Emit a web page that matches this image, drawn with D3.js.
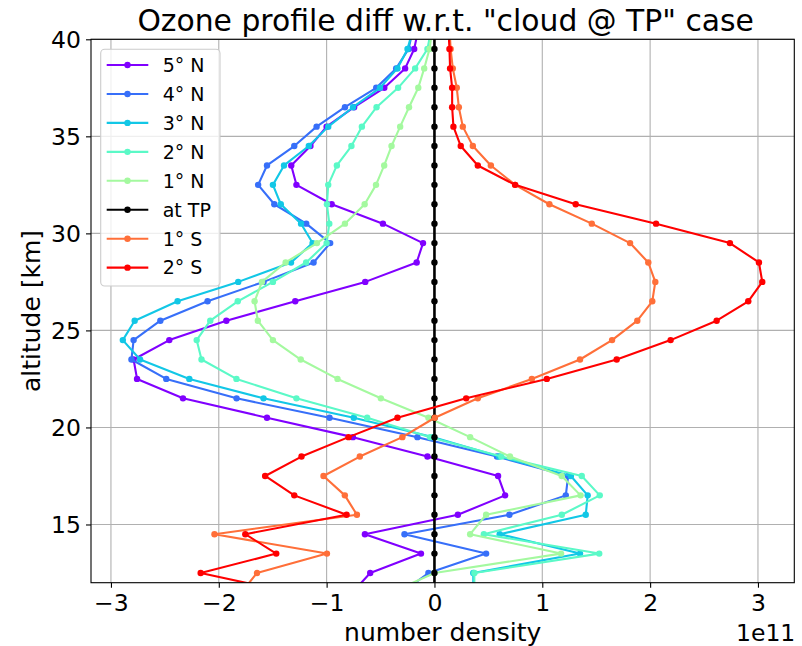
<!DOCTYPE html>
<html>
<head>
<meta charset="utf-8">
<script src="https://cdn.jsdelivr.net/npm/d3@7"></script>
<style>
  html, body { margin: 0; padding: 0; background: #ffffff; }
  svg { display: block; }
  text { font-family: "DejaVu Sans", sans-serif; fill: #000; }
</style>
</head>
<body>
<div id="chart"></div>
<script>
// ---------- data (number density difference, units of 1e11) ----------
const altitudes = [11.5, 12.5, 13.5, 14.5, 15.5, 16.5, 17.5, 18.5, 19.5, 20.5,
                   21.5, 22.5, 23.5, 24.5, 25.5, 26.5, 27.5, 28.5, 29.5, 30.5,
                   31.5, 32.5, 33.5, 34.5, 35.5, 36.5, 37.5, 38.5, 39.5, 40.5];

const seriesNames = ["5° N", "4° N", "3° N", "2° N", "1° N", "at TP", "1° S", "2° S"];
const seriesColors = ["#8000ff", "#376ff9", "#12c7e6", "#5bf9c7", "#a4f99f", "#000000", "#ff6f39", "#ff0000"];

const lat5N = [-0.76, -0.596, -0.125, -0.645, 0.217, 0.655, 0.59, -0.065, -0.756, -1.553,
               -2.332, -2.758, -2.79, -2.459, -1.93, -1.291, -0.642, -0.165, -0.106, -0.478,
               -0.953, -1.28, -1.328, -1.15, -1.0, -0.745, -0.465, -0.272, -0.188, -0.15];
const lat4N = [-0.3, -0.056, 0.479, -0.278, 0.695, 1.218, 1.24, 0.58, -0.158, -0.973,
               -1.835, -2.487, -2.81, -2.79, -2.542, -2.104, -1.585, -1.121, -0.967, -1.189,
               -1.485, -1.635, -1.553, -1.30, -1.093, -0.83, -0.54, -0.355, -0.24, -0.2];
const lat3N = [0.36, 0.36, 1.35, 0.605, 1.403, 1.421, 1.265, 0.60, -0.01, -0.748,
               -1.585, -2.273, -2.73, -2.89, -2.78, -2.382, -1.82, -1.33, -1.13, -1.237,
               -1.425, -1.498, -1.395, -1.165, -0.985, -0.755, -0.505, -0.343, -0.25, -0.2];
const lat2N = [0.37, 0.37, 1.528, 0.458, 1.181, 1.533, 1.366, 0.62, -0.04, -0.624,
               -1.28, -1.836, -2.16, -2.205, -2.079, -1.824, -1.498, -1.19, -1.0, -0.975,
               -0.997, -0.985, -0.905, -0.77, -0.673, -0.537, -0.337, -0.179, -0.065, -0.03];
const lat1N = [-0.4, 0.0, 1.174, 0.331, 0.479, 1.355, 1.18, 0.70, 0.331, -0.056,
               -0.497, -0.899, -1.24, -1.498, -1.638, -1.668, -1.60, -1.38, -1.09, -0.83,
               -0.647, -0.542, -0.466, -0.398, -0.318, -0.236, -0.15, -0.095, -0.046, -0.02];
const atTP  = [0, 0, 0, 0, 0, 0, 0, 0, 0, 0,
               0, 0, 0, 0, 0, 0, 0, 0, 0, 0,
               0, 0, 0, 0, 0, 0, 0, 0, 0, 0];
const lat1S = [-1.79, -1.646, -0.997, -2.04, -0.719, -0.831, -1.029, -0.692, -0.298, 0.003,
               0.402, 0.903, 1.35, 1.647, 1.881, 2.02, 2.048, 1.983, 1.814, 1.459,
               1.066, 0.748, 0.523, 0.356, 0.263, 0.226, 0.207, 0.17, 0.15, 0.14];
const lat2S = [-1.335, -2.168, -1.467, -1.754, -0.815, -1.30, -1.57, -1.233, -0.797, -0.343,
               0.294, 1.042, 1.69, 2.19, 2.617, 2.91, 3.04, 3.009, 2.74, 2.055,
               1.31, 0.748, 0.402, 0.244, 0.176, 0.164, 0.164, 0.145, 0.139, 0.13];

const xTicks = [-3, -2, -1, 0, 1, 2, 3];
const yTicks = [15, 20, 25, 30, 35, 40];

const titleText = "Ozone profile diff w.r.t. \"cloud @ TP\" case";
const xLabelText = "number density";
const yLabelText = "altitude [km]";
const offsetText = "1e11";

// ---------- layout ----------
const W = 802, H = 646;
const plot = { left: 91, right: 794.3, top: 39.3, bottom: 582.7 };

const seriesValues = [lat5N, lat4N, lat3N, lat2N, lat1N, atTP, lat1S, lat2S];
const series = seriesNames.map((name, i) => ({
  name, color: seriesColors[i],
  points: altitudes.map((a, j) => ({ alt: a, v: seriesValues[i][j] }))
}));

const x = d3.scaleLinear().domain([-3.185, 3.337]).range([plot.left, plot.right]);
const y = d3.scaleLinear().domain([12, 40]).range([plot.bottom, plot.top]);

const svg = d3.select("#chart").append("svg")
  .attr("width", W).attr("height", H)
  .attr("viewBox", `0 0 ${W} ${H}`);

svg.append("rect").attr("width", W).attr("height", H).attr("fill", "#fff");

svg.append("defs").append("clipPath").attr("id", "clip")
  .append("rect")
  .attr("x", plot.left).attr("y", plot.top)
  .attr("width", plot.right - plot.left).attr("height", plot.bottom - plot.top);

// grid
const grid = svg.append("g");
grid.selectAll("line.gx").data(xTicks).enter().append("line")
  .attr("x1", d => x(d)).attr("x2", d => x(d))
  .attr("y1", plot.top).attr("y2", plot.bottom)
  .attr("stroke", "#b0b0b0").attr("stroke-width", 1.1);
grid.selectAll("line.gy").data(yTicks).enter().append("line")
  .attr("x1", plot.left).attr("x2", plot.right)
  .attr("y1", d => y(d)).attr("y2", d => y(d))
  .attr("stroke", "#b0b0b0").attr("stroke-width", 1.1);

// series
const dataG = svg.append("g").attr("clip-path", "url(#clip)");
const line = d3.line().x(d => x(d.v)).y(d => y(d.alt));
series.forEach(s => {
  const g = dataG.append("g");
  g.append("path").datum(s.points)
    .attr("d", line)
    .attr("fill", "none")
    .attr("stroke", s.color)
    .attr("stroke-width", s.name === "at TP" ? 2.6 : 2.1)
    .attr("stroke-linejoin", "round")
    .attr("stroke-linecap", "butt");
  g.selectAll("circle").data(s.points).enter().append("circle")
    .attr("cx", d => x(d.v)).attr("cy", d => y(d.alt))
    .attr("r", 3.2)
    .attr("fill", s.color);
});

// axes frame
svg.append("rect")
  .attr("x", plot.left).attr("y", plot.top)
  .attr("width", plot.right - plot.left).attr("height", plot.bottom - plot.top)
  .attr("fill", "none").attr("stroke", "#000").attr("stroke-width", 1.1);

// x axis
const xAxis = d3.axisBottom(x).tickValues(xTicks).tickSize(5).tickPadding(6)
  .tickFormat(d => d < 0 ? "\u2212" + Math.abs(d) : String(d));
const gx = svg.append("g").attr("transform", `translate(0,${plot.bottom})`).call(xAxis);
gx.select(".domain").remove();
gx.selectAll(".tick line").attr("stroke", "#000").attr("stroke-width", 1.1);
gx.selectAll(".tick text")
  .attr("font-family", "DejaVu Sans").attr("font-size", 23.5)
  .attr("fill", "#000").attr("dy", "0.73em");

// y axis
const yAxis = d3.axisLeft(y).tickValues(yTicks).tickSize(5).tickPadding(5)
  .tickFormat(d => String(d));
const gy = svg.append("g").attr("transform", `translate(${plot.left},0)`).call(yAxis);
gy.select(".domain").remove();
gy.selectAll(".tick line").attr("stroke", "#000").attr("stroke-width", 1.1);
gy.selectAll(".tick text")
  .attr("font-family", "DejaVu Sans").attr("font-size", 23.5)
  .attr("fill", "#000").attr("dy", "0.36em");

// labels
svg.append("text")
  .attr("x", (plot.left + plot.right) / 2 + 3).attr("y", 31)
  .attr("text-anchor", "middle").attr("font-size", 29.8)
  .text(titleText);
svg.append("text")
  .attr("x", (plot.left + plot.right) / 2).attr("y", 641)
  .attr("text-anchor", "middle").attr("font-size", 25)
  .text(xLabelText);
svg.append("text")
  .attr("x", plot.right + 1).attr("y", 641)
  .attr("text-anchor", "end").attr("font-size", 23.5)
  .text(offsetText);
svg.append("text")
  .attr("transform", `translate(40,${(plot.top + plot.bottom) / 2}) rotate(-90)`)
  .attr("text-anchor", "middle").attr("font-size", 25)
  .text(yLabelText);

// legend
const lg = svg.append("g");
lg.append("rect")
  .attr("x", 100.7).attr("y", 49.3).attr("width", 119.3).attr("height", 236.7)
  .attr("rx", 4).attr("ry", 4)
  .attr("fill", "#fff").attr("fill-opacity", 0.8)
  .attr("stroke", "#cccccc").attr("stroke-width", 1.1);
series.forEach((s, i) => {
  const cy = 65 + i * 28.95;
  lg.append("line")
    .attr("x1", 106.7).attr("x2", 148.3).attr("y1", cy).attr("y2", cy)
    .attr("stroke", s.color).attr("stroke-width", 2.1);
  lg.append("circle").attr("cx", 127.5).attr("cy", cy).attr("r", 3.2).attr("fill", s.color);
  lg.append("text")
    .attr("x", 162.7).attr("y", cy).attr("dy", "0.36em")
    .attr("font-size", 19).text(s.name);
});
</script>
</body>
</html>
